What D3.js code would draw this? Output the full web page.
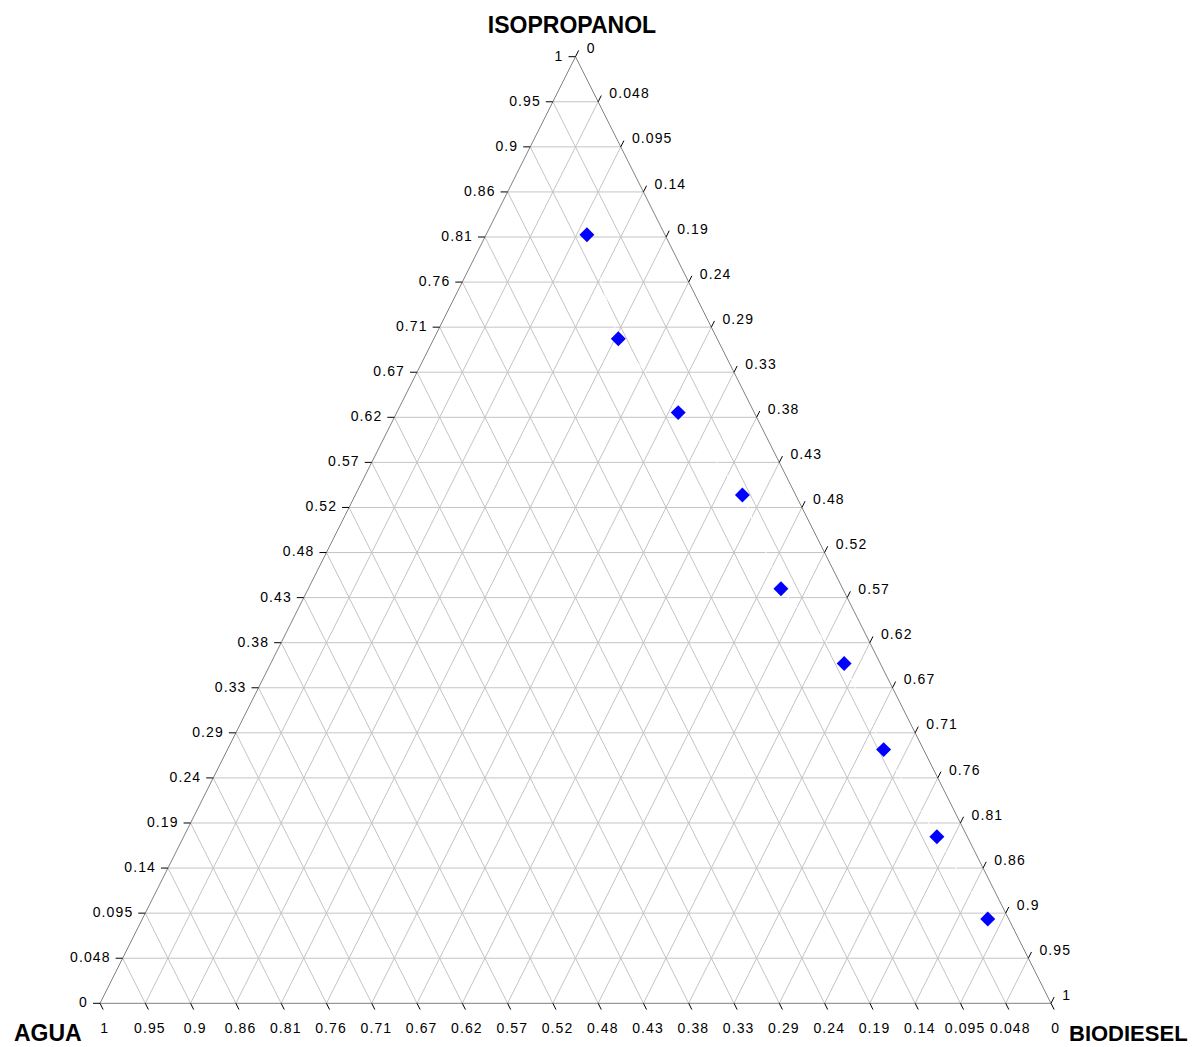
<!DOCTYPE html>
<html>
<head>
<meta charset="utf-8">
<script src="https://cdn.jsdelivr.net/npm/d3@7"></script>
<style>
  body { margin: 0; background: #fff; }
  text { font-family: Arial, "Liberation Sans", sans-serif; fill: #000; }
</style>
</head>
<body>
<div id="chart"></div>
<script>
// mass fractions
const agua        = [0.082, 0.104, 0.080, 0.056, 0.065, 0.038, 0.042, 0.032, 0.022];
const biodiesel   = [0.106, 0.194, 0.296, 0.407, 0.497, 0.603, 0.690, 0.792, 0.889];
const isopropanol = [0.812, 0.702, 0.624, 0.537, 0.438, 0.359, 0.268, 0.176, 0.089];

const tickLabels = ["0", "0.048", "0.095", "0.14", "0.19", "0.24", "0.29", "0.33", "0.38", "0.43", "0.48",
  "0.52", "0.57", "0.62", "0.67", "0.71", "0.76", "0.81", "0.86", "0.9", "0.95", "1"];
const nDiv = tickLabels.length - 1;

const width = 1196, height = 1047;

// horizontal position along the base, vertical from isopropanol
let x = d3.scaleLinear().domain([0, 1]).range([100, 1051]);
let y = d3.scaleLinear().domain([0, 1]).range([1003.3, 56.7]);

// b = biodiesel, i = isopropanol
const pt = (b, i) => [x(b + i / 2), y(i)];

const svg = d3.select("#chart")
  .append("svg")
  .attr("width", width)
  .attr("height", height);

// grid
const grid = svg.append("g")
  .attr("stroke", "#c4c4c4")
  .attr("stroke-width", 1)
  .attr("fill", "none");

const ks = d3.range(1, nDiv);
// constant isopropanol (horizontal)
grid.selectAll(".gi").data(ks).join("line")
  .attr("x1", k => pt(0, k / nDiv)[0]).attr("y1", k => pt(0, k / nDiv)[1])
  .attr("x2", k => pt(1 - k / nDiv, k / nDiv)[0]).attr("y2", k => pt(1 - k / nDiv, k / nDiv)[1]);
// constant biodiesel
grid.selectAll(".gb").data(ks).join("line")
  .attr("x1", k => pt(k / nDiv, 0)[0]).attr("y1", k => pt(k / nDiv, 0)[1])
  .attr("x2", k => pt(k / nDiv, 1 - k / nDiv)[0]).attr("y2", k => pt(k / nDiv, 1 - k / nDiv)[1]);
// constant agua
grid.selectAll(".ga").data(ks).join("line")
  .attr("x1", k => pt(1 - k / nDiv, 0)[0]).attr("y1", k => pt(1 - k / nDiv, 0)[1])
  .attr("x2", k => pt(0, 1 - k / nDiv)[0]).attr("y2", k => pt(0, 1 - k / nDiv)[1]);

// outline
svg.append("path")
  .attr("d", d3.line()([pt(0, 0), pt(1, 0), pt(0, 1)]) + "Z")
  .attr("fill", "none")
  .attr("stroke", "#808080")
  .attr("stroke-width", 1);

// ticks
const ticks = svg.append("g").attr("stroke", "#000").attr("stroke-width", 1);
const labels = svg.append("g").attr("font-size", "14px").attr("letter-spacing", "1.1px");
const kAll = d3.range(0, nDiv + 1);
const len = 7;
const ux = 475.5 / Math.hypot(475.5, 946.6), uy = 946.6 / Math.hypot(475.5, 946.6);

// left axis: isopropanol
kAll.forEach(k => {
  const [px, py] = pt(0, k / nDiv);
  ticks.append("line").attr("x1", px).attr("y1", py).attr("x2", px - len).attr("y2", py);
  labels.append("text")
    .attr("x", px - len - 5).attr("y", py - 1)
    .attr("dy", "0.35em")
    .attr("text-anchor", "end")
    .text(tickLabels[k]);
});

// bottom axis: agua (1 at left)
kAll.forEach(k => {
  const [px, py] = pt(1 - k / nDiv, 0);
  const ex = px + ux * len, ey = py + uy * len;
  ticks.append("line").attr("x1", px).attr("y1", py).attr("x2", ex).attr("y2", ey);
  labels.append("text")
    .attr("x", ex + 1.5).attr("y", ey + 23)
    .attr("text-anchor", "middle")
    .text(tickLabels[k]);
});

// right axis: biodiesel (0 at top)
kAll.forEach(k => {
  const [px, py] = pt(k / nDiv, 1 - k / nDiv);
  const ex = px + ux * len, ey = py - uy * len;
  ticks.append("line").attr("x1", px).attr("y1", py).attr("x2", ex).attr("y2", ey);
  labels.append("text")
    .attr("x", ex + 8).attr("y", ey - 2)
    .attr("dy", "0.35em")
    .attr("text-anchor", "start")
    .text(tickLabels[k]);
});

// axis titles
svg.append("text")
  .attr("x", 572).attr("y", 33)
  .attr("text-anchor", "middle")
  .attr("font-size", "23px").attr("font-weight", "bold")
  .text("ISOPROPANOL");
svg.append("text")
  .attr("x", 14).attr("y", 1041)
  .attr("font-size", "23px").attr("font-weight", "bold")
  .text("AGUA");
svg.append("text")
  .attr("x", 1069).attr("y", 1041)
  .attr("font-size", "22px").attr("font-weight", "bold")
  .text("BIODIESEL");

// data
const data = agua.map((a, i) => ({ a: a, b: biodiesel[i], i: isopropanol[i] }));

svg.append("path")
  .datum(data)
  .attr("fill", "none")
  .attr("stroke", "#fff")
  .attr("stroke-width", 1)
  .attr("d", d3.line().x(d => pt(d.b, d.i)[0]).y(d => pt(d.b, d.i)[1]));

svg.append("g").selectAll("path").data(data).join("path")
  .attr("d", d3.symbol(d3.symbolSquare, 112))
  .attr("transform", d => `translate(${pt(d.b, d.i)[0]},${pt(d.b, d.i)[1]}) rotate(45)`)
  .attr("fill", "#0000ff");
</script>
</body>
</html>
